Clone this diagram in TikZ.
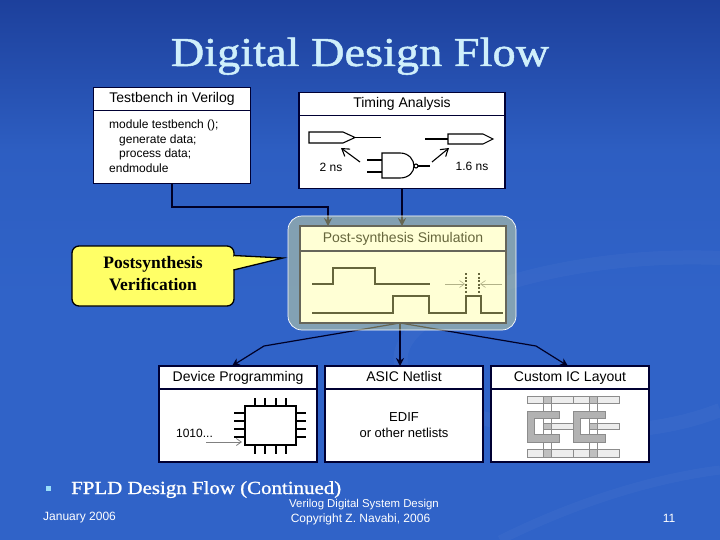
\documentclass[tikz,border=0pt]{standalone}
\usepackage{fontspec}
\setmainfont{Liberation Serif}
\setsansfont{Liberation Sans}
\newfontfamily\slidefont{Liberation Serif}[FakeStretch=1.13,FakeBold=1.2]
\usetikzlibrary{arrows.meta,positioning}
\definecolor{slideblue}{HTML}{3063C8}
\definecolor{slidetop}{HTML}{1D409C}
\definecolor{titleblue}{HTML}{CFEFFB}
\definecolor{veilyellow}{HTML}{FFFF96}
\definecolor{noteyellow}{HTML}{FFFF66}

\begin{document}
\begin{tikzpicture}[
  x=1pt, y=-1pt,
  headbox/.style={draw=black!80!blue, line width=1.4pt, fill=white, inner sep=0pt, outer sep=0pt, text height=10pt, text depth=3pt, font=\fontsize{14}{16}\sffamily},
  bodybox/.style={draw=black!80!blue, line width=1.4pt, fill=white, inner sep=0pt, outer sep=0pt, align=center, font=\fontsize{13}{16}\sffamily},
  label/.style={inner sep=0pt, font=\fontsize{12}{14.5}\sffamily},
  link/.style={draw=black!85!blue, line width=1.2pt},
  flow/.style={link, -{Stealth[length=8pt,width=8pt]}},
  wire/.style={draw=black, line width=1.1pt},
  gatearrow/.style={draw=black, line width=1.1pt, -{Straight Barb[length=7pt,width=9pt]}},
  thinarrow/.style={draw=black!50, line width=0.6pt, -{Straight Barb[length=5pt,width=7pt]}},
  strip/.style={draw=black!45, line width=0.5pt, fill=black!7},
  poly/.style={fill=black!30, draw=black!45, line width=0.5pt},
  cut/.style={draw=black!45, line width=0.5pt, fill=black!25}
]
\useasboundingbox (0,0) rectangle (720,540);
\shade[top color=slidetop, bottom color=slideblue, middle color=slideblue!85!slidetop] (0,0) rectangle (720,300);
\fill[slideblue] (0,300) rectangle (720,540);
% background swoosh
\draw[white, opacity=0.03, line width=14pt] (720,258) .. controls (520,250) and (340,330) .. (420,390) .. controls (470,430) and (620,450) .. (720,410);
\draw[white, opacity=0.03, line width=9pt] (720,470) .. controls (640,480) and (560,510) .. (500,540);

\node[font=\fontsize{41}{43}\slidefont, text=titleblue, inner sep=0pt, anchor=base] (title) at (360,66) {Digital Design Flow};

% top row
\node[headbox, minimum width=157pt, minimum height=23pt] (tbhead) at (172,99) {Testbench in Verilog};
\node[bodybox, minimum width=157pt, minimum height=73pt, below=0pt of tbhead] (tbbody) {};
\node[label, anchor=west, align=left] (tbcode) at (109,146) {module testbench ();\\\hspace*{10pt}generate data;\\\hspace*{10pt}process data;\\endmodule};

\node[headbox, minimum width=206pt, minimum height=23pt] (tahead) at (402,104) {Timing Analysis};
\node[bodybox, minimum width=206pt, minimum height=73pt, below=0pt of tahead] (tabody) {};
\draw[wire, fill=white] (309,132) -- (343,132) -- (355,137.5) -- (343,143) -- (309,143) -- cycle;
\draw[wire] (355,137.5) -- (381,137.5);
\draw[wire] (425,139) -- (448,139);
\draw[wire, fill=white] (448,134) -- (483,134) -- (493,139) -- (483,144) -- (448,144) -- cycle;
\draw[wire] (382,153) -- (400,153) .. controls (409,153) and (414,160) .. (414,166) .. controls (414,172) and (409,178) .. (400,178) -- (382,178) -- cycle;
\draw[wire] (416,166) circle (2);
\draw[wire] (418,166) -- (430,166);
\draw[wire] (367,160) -- (382,160) (367,172) -- (382,172);
\draw[gatearrow] (360,162) -- (341,148);
\draw[gatearrow] (432,162) -- (449,148);
\node[label] (tafirst) at (331,167) {2 ns};
\node[label] (tasecond) at (472,166) {1.6 ns};

% simulation box
\node[headbox, minimum width=206pt, minimum height=25pt] (simhead) at (403,238.5) {Post-synthesis Simulation};
\node[bodybox, minimum width=206pt, minimum height=72pt, below=0pt of simhead] (simbody) {};
\draw[wire] (312,284) -- (333,284) -- (333,268) -- (375,268) -- (375,284) -- (430,284);
\draw[wire] (312,313) -- (393,313) -- (393,296) -- (429,296) -- (429,313) -- (466,313) -- (466,296) -- (481,296) -- (481,313) -- (503,313);
\draw[wire, dashed, dash pattern=on 2pt off 1.5pt] (466,273) -- (466,293) (479,273) -- (479,293);
\draw[thinarrow] (445,284) -- (465,284);
\draw[thinarrow] (502,284) -- (480,284);

% bottom row
\node[headbox, minimum width=158pt, minimum height=23pt] (devhead) at (238,377.5) {Device Programming};
\node[bodybox, minimum width=158pt, minimum height=73pt, below=0pt of devhead] (devbody) {};
\node[headbox, minimum width=158pt, minimum height=23pt, right=8pt of devhead] (asichead) {ASIC Netlist};
\node[bodybox, minimum width=158pt, minimum height=73pt, below=0pt of asichead] (asicbody) {EDIF\\or other netlists};
\node[headbox, minimum width=158pt, minimum height=23pt, right=8pt of asichead] (iclhead) {Custom IC Layout};
\node[bodybox, minimum width=158pt, minimum height=73pt, below=0pt of iclhead] (iclbody) {};

% chip
\draw[wire, fill=white] (245,406) rectangle (296,445);
\foreach \px in {255,265,276,286} {
  \draw[wire] (\px,398) -- (\px,406);
  \draw[wire] (\px,445) -- (\px,454);
}
\foreach \py in {413,421,429,437} {
  \draw[wire] (234,\py) -- (245,\py);
  \draw[wire] (296,\py) -- (306,\py);
}
\node[label] (bits) at (194.5,433) {1010...};
\draw[thinarrow, line width=0.8pt] (206,442) -- (242,442);

% layout cells
\foreach \cx in {0,46.5} {
  \draw[strip] (527+\cx,396) rectangle (573+\cx,403);
  \draw[strip] (527+\cx,449.5) rectangle (573+\cx,457);
  \draw[strip] (543+\cx,423) rectangle (573+\cx,429);
  \draw[draw=black!45, line width=0.5pt] (543+\cx,396) -- (543+\cx,457) (551+\cx,396) -- (551+\cx,457);
  \fill[cut] (543+\cx,396) rectangle (551+\cx,403);
  \fill[cut] (543+\cx,449.5) rectangle (551+\cx,457);
  \fill[cut] (543+\cx,423) rectangle (551+\cx,429);
  \draw[poly] (527+\cx,411) -- (559+\cx,411) -- (559+\cx,418) -- (534+\cx,418) -- (534+\cx,434) -- (559+\cx,434) -- (559+\cx,442) -- (527+\cx,442) -- cycle;
}

% connectors
\coordinate (tbturn) at (172,207);
\coordinate (simin) at (328,207);
\coordinate (fork) at (400,323);
\coordinate (forkleft) at (264,346);
\coordinate (forkright) at (536,346);
\draw[flow] (tbbody.south) -- (tbturn) -- (simin) -- (simin |- simhead.north);
\draw[flow] (tabody.south) -- (simhead.north -| tabody.south);
\draw[link, -{Stealth[length=8pt,width=8pt]}] (fork) -- (forkleft) -- (232,366);
\draw[flow] (fork) -- (fork |- asichead.north);
\draw[link, -{Stealth[length=8pt,width=8pt]}] (fork) -- (forkright) -- (568,366);

% highlight over the simulation box
\draw[draw=white, line width=0.7pt, fill=veilyellow, fill opacity=0.4, rounded corners=14pt] (288,216) rectangle (516,330);

% note
\draw[fill=noteyellow, draw=black, line width=1.3pt, rounded corners=7pt] (72,246) rectangle (234,306);
\draw[fill=noteyellow, draw=black, line width=1.3pt, line join=miter] (233.5,255.5) -- (283,258) -- (233.5,270);
\fill[noteyellow] (231,257) rectangle (235,268.5);
\node[font=\fontsize{17.5}{22}\selectfont\bfseries, align=center, inner sep=0pt] (note) at (153,274) {Postsynthesis\\Verification};

% footer
\fill[cyan!40!white] (45.5,486) rectangle (50.5,491);
\node[font=\fontsize{18.5}{21}\slidefont, text=white, anchor=base west, inner sep=0pt] (topic) at (71,494) {FPLD Design Flow (Continued)};
\node[text=white, font=\fontsize{12}{14}\sffamily, anchor=west, inner sep=0pt] (date) at (43,518) {January 2006};
\node[text=white, font=\fontsize{11.4}{14}\sffamily, inner sep=0pt] (course) at (364,505) {Verilog Digital System Design};
\node[text=white, font=\fontsize{12}{14}\sffamily, inner sep=0pt] (rights) at (360.5,519) {Copyright Z. Navabi, 2006};
\node[text=white, font=\fontsize{12}{14}\sffamily, inner sep=0pt] (page) at (669,518) {11};
\end{tikzpicture}
\end{document}
